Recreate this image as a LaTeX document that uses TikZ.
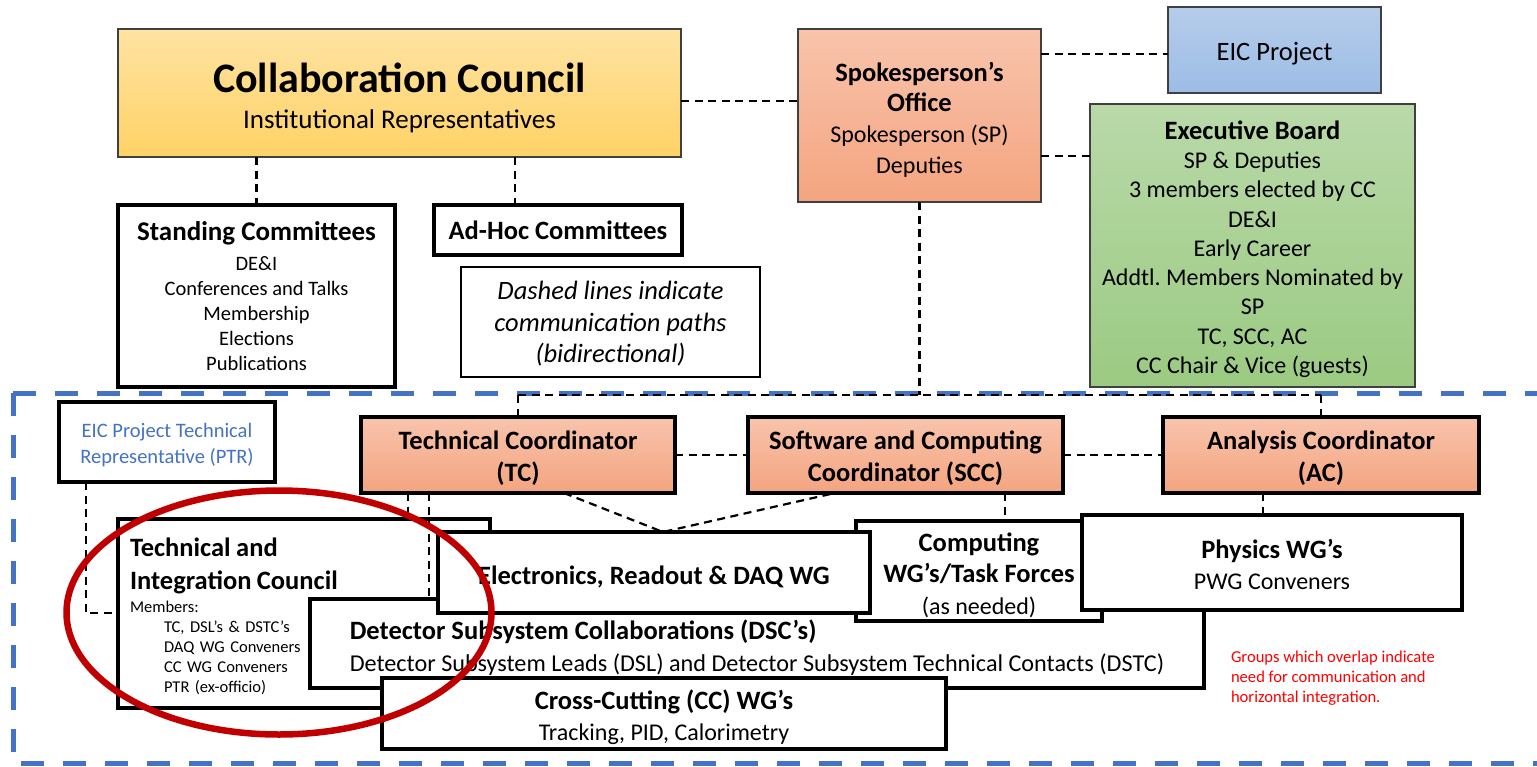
\documentclass[tikz,border=0pt]{standalone}
\usepackage{fontspec}
\setmainfont{Carlito}
\usetikzlibrary{shapes.geometric}
\definecolor{ccTop}{HTML}{FEE3A2}
\definecolor{ccBot}{HTML}{FFD266}
\definecolor{slTop}{HTML}{F8C4AC}
\definecolor{slBot}{HTML}{F4A480}
\definecolor{blTop}{HTML}{B6CDEA}
\definecolor{blBot}{HTML}{9CBCE6}
\definecolor{grTop}{HTML}{B9D9A9}
\definecolor{grBot}{HTML}{9BCA82}
\definecolor{frameBlue}{HTML}{4472C4}
\definecolor{ptrBlue}{HTML}{4472C4}
\definecolor{ovalRed}{HTML}{C00000}
\definecolor{noteRed}{HTML}{FF0000}
\frenchspacing
\newcommand{\myfs}[2]{\fontsize{#1}{#2}\selectfont\lineskiplimit=-100pt\relax}
\newcommand{\bt}{\fontsize{26.5}{32}\selectfont\bfseries}
% raise the height of the first line so that the text block moves down by #1/2
\newcommand{\pad}[2]{\raisebox{0pt}[\dimexpr\height+#1\relax]{#2}}
\begin{document}
\begin{tikzpicture}[x=1pt,y=-1pt,
  every node/.style={inner sep=0pt, outer sep=0pt},
  softbox/.style={draw=black!75, line width=1.3pt, align=center},
  hardbox/.style={draw=black, line width=3.5pt, fill=white, align=center},
  coordbox/.style={draw=black, line width=3.5pt, top color=slTop, bottom color=slBot, align=center,
                   minimum height=76pt, font=\myfs{26.5}{32}\bfseries},
  conn/.style={draw=black, line width=2.2pt, dash pattern=on 8pt off 5.5pt},
  blueframe/.style={draw=frameBlue, line width=5pt, dash pattern=on 23pt off 19pt},
]
\useasboundingbox (0,0) rectangle (1537,766);

% big blue dashed frame
\draw[blueframe] (13,393) -- (1537,393);
\draw[blueframe] (13,393) -- (13,763) -- (1537,763);

% ---------- upper part ----------
\node[softbox, top color=ccTop, bottom color=ccBot, minimum width=563pt, minimum height=128pt,
      font=\myfs{27}{36}] (cc) at (399.5,93)
  {\pad{10pt}{\fontsize{42}{50}\selectfont\bfseries Collaboration Council}\\Institutional Representatives};

\node[softbox, top color=slTop, bottom color=slBot, minimum width=243pt, minimum height=173pt,
      font=\myfs{24}{30.8}] (spo) at (919.5,115.5)
  {\pad{8pt}{\bt Spokesperson’s}\\{\bt Office}\\Spokesperson (SP)\\Deputies};

\node[softbox, top color=blTop, bottom color=blBot, minimum width=213pt, minimum height=86pt,
      font=\myfs{26.5}{32}] (eic) at (1274.5,50) {\pad{8pt}{EIC Project}};

\node[softbox, top color=grTop, bottom color=grBot, minimum width=325pt, minimum height=283pt,
      font=\myfs{24}{29.25}] (eb) at (1252.5,245.5)
  {\pad{7pt}{\bt Executive Board}\\SP \& Deputies\\3 members elected by CC\\DE\&I\\Early Career\\Addtl. Members Nominated by\\SP\\TC, SCC, AC\\CC Chair \& Vice (guests)};

\node[hardbox, minimum width=277pt, minimum height=182pt, font=\myfs{20.5}{25}] (sc) at (256.5,296)
  {{\fontsize{27}{32}\selectfont\bfseries Standing Committees}\\[5pt]DE\&I\\Conferences and Talks\\Membership\\Elections\\Publications};

\node[hardbox, minimum width=248pt, minimum height=50pt, font=\bt] (ah) at (558,230) {Ad-Hoc Committees};

\node[draw=black, line width=1.5pt, fill=white, align=center, minimum width=299pt, minimum height=110pt,
      font=\myfs{26.5}{31.5}\itshape] (legend) at (610.5,322)
  {\pad{4pt}{Dashed lines indicate}\\communication paths\\(bidirectional)};

% ---------- lower part ----------
\node[hardbox, text=ptrBlue, minimum width=216pt, minimum height=80pt, font=\myfs{20.5}{26}] (ptr) at (167,442)
  {\pad{6pt}{EIC Project Technical}\\Representative (PTR)};

\node[coordbox, minimum width=314pt] (tc) at (518,455) {\pad{6pt}{Technical Coordinator}\\(TC)};
\node[coordbox, minimum width=315pt] (scc) at (905.5,455) {\pad{6pt}{Software and Computing}\\Coordinator (SCC)};
\node[coordbox, minimum width=316pt] (ac) at (1321,455) {\pad{6pt}{Analysis Coordinator}\\(AC)};

\node[hardbox, align=left, text width=348pt, minimum width=372pt, minimum height=189pt,
      font=\myfs{16.5}{20}] (tic) at (304,613.5)
  {\pad{6pt}{\bt Technical and}\\[13pt]{\bt Integration Council}\\[3pt]Members:\\
   \hspace*{34pt}TC, DSL’s \& DSTC’s\\\hspace*{34pt}DAQ WG Conveners\\\hspace*{34pt}CC WG Conveners\\\hspace*{34pt}PTR (ex-officio)};

\node[hardbox, align=left, minimum width=894pt, minimum height=89pt, font=\myfs{24.2}{31.5}] (dsc) at (757,643.5)
  {\pad{8pt}{\bt Detector Subsystem Collaborations (DSC’s)}\\Detector Subsystem Leads (DSL) and Detector Subsystem Technical Contacts (DSTC)};

\node[hardbox, minimum width=246pt, minimum height=100pt, font=\myfs{24}{31.5}] (comp) at (979,571)
  {\pad{8pt}{\bt Computing}\\{\bt WG’s/Task Forces}\\(as needed)};

\node[hardbox, minimum width=432pt, minimum height=81pt, font=\bt] (elec) at (654,572.5)
  {\pad{8pt}{Electronics, Readout \& DAQ WG}};

\node[hardbox, minimum width=380pt, minimum height=95pt, font=\myfs{24}{31}] (phys) at (1272,562.5)
  {\pad{3pt}{\bt Physics WG’s}\\PWG Conveners};

\node[hardbox, minimum width=564pt, minimum height=71pt, font=\myfs{24}{31}] (xc) at (664,713.5)
  {\pad{7pt}{\bt Cross-Cutting (CC) WG’s}\\Tracking, PID, Calorimetry};

\node[anchor=north west, align=left, text=noteRed, font=\myfs{16.6}{20}] (note) at (1231,651)
  {Groups which overlap indicate\\need for communication and\\horizontal integration.};

% ---------- connectors ----------
\coordinate (r1) at (0,101);
\coordinate (r2) at (0,54);
\coordinate (r3) at (0,156);
\coordinate (bus) at (0,395);
\coordinate (r4) at (0,613);
\coordinate (k1) at (515,0);
\coordinate (p1) at (86,0);
\coordinate (k2) at (408,0);
\coordinate (k3) at (429,0);
\coordinate (k4) at (564,0);
\coordinate (k5) at (663,0);
\coordinate (k6) at (835,0);
\coordinate (k7) at (1005,0);
\coordinate (k8) at (1263,0);

\draw[conn] (cc.east |- r1) -- (spo.west |- r1);
\draw[conn] (spo.east |- r2) -- (eic.west |- r2);
\draw[conn] (spo.east |- r3) -- (eb.west |- r3);
\draw[conn] (sc.north |- cc.south) -- (sc.north);
\draw[conn] (k1 |- cc.south) -- (k1 |- ah.north);
\draw[conn] (spo.south) -- (spo.south |- bus);
\draw[conn] (tc.north |- bus) -- (ac.north |- bus);
\draw[conn] (tc.north |- bus) -- (tc.north);
\draw[conn] (ac.north |- bus) -- (ac.north);
\draw[conn] (tc.east) -- (scc.west);
\draw[conn] (scc.east) -- (ac.west);
\draw[conn] (p1 |- ptr.south) -- (p1 |- r4) -- (tic.west |- r4);
\draw[conn] (k2 |- tc.south) -- (k2 |- tic.north);
\draw[conn] (k3 |- tc.south) -- (k3 |- dsc.north);
\draw[conn] (k4 |- tc.south) -- (k5 |- elec.north) -- (k6 |- scc.south);
\draw[conn] (k7 |- scc.south) -- (k7 |- comp.north);
\draw[conn] (k8 |- ac.south) -- (k8 |- phys.north);

% red oval
\node[draw=ovalRed, line width=6.5pt, ellipse, minimum width=425pt, minimum height=244pt] (oval) at (279,612.5) {};
\end{tikzpicture}
\end{document}
